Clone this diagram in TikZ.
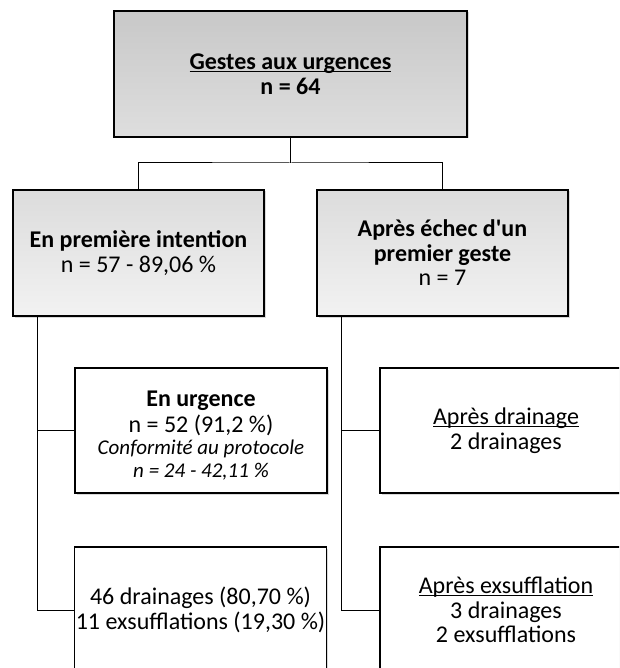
\documentclass[tikz,border=0pt]{standalone}
\usepackage{fontspec}
\setmainfont{Carlito}
\usetikzlibrary{positioning,shadows}
\definecolor{topA}{RGB}{200,200,200}
\definecolor{topB}{RGB}{222,222,222}
\definecolor{midA}{RGB}{220,220,220}
\definecolor{midB}{RGB}{242,242,242}
\newcommand{\ul}[1]{\setbox0\hbox{#1}\rlap{\rule[-2.6pt]{\wd0}{1.1pt}}\box0}
\newcommand{\itl}{\fontsize{21}{22}\selectfont\itshape}

\begin{document}
\begin{tikzpicture}[x=1pt,y=-1pt]
\tikzstyle{every node}+=[align=center,inner sep=0pt,font=\fontsize{24}{24.5}\selectfont]
\tikzstyle{box}=[draw=black,line width=1.2pt,fill=white,minimum width=252pt,minimum height=126pt,drop shadow={shadow xshift=1.5pt,shadow yshift=-1.5pt,opacity=0.3}]
\useasboundingbox (0,0) rectangle (619,668);
\clip (0,0) rectangle (619,668);
\node [box,minimum width=353pt,top color=topA,bottom color=topB] (gestes) at (290.5,74) {\bfseries\ul{Gestes aux urgences}\\ \bfseries n = 64};
\node [box,top color=midA,bottom color=midB,minimum width=251pt] (premiere) at (138.5,253) {\bfseries En première intention\\ n = 57 - 89,06 \%};
\node [box,top color=midA,bottom color=midB,minimum width=251pt] (echec) at (442.5,253) {\bfseries Après échec d\textquotesingle un\\ \bfseries premier geste\\ n = 7};
\node [box,minimum height=125pt] (urgence) at (201,430.5) {\rule{0pt}{26pt}\bfseries En urgence\\[1.5pt] n = 52 (91,2 \%)\\[-2.5pt] \itl Conformité au protocole\\[-1pt] \itl n = 24 - 42,11 \%};
\node [box,minimum height=125pt] (drainage) at (506,430.5) {\ul{Après drainage}\\ 2 drainages};
\node [box] (total) at (200.5,610) {46 drainages (80,70 \%)\\ 11 exsufflations (19,30 \%)};
\node [box] (exsuff) at (506,610) {\ul{Après exsufflation}\\ 3 drainages\\ 2 exsufflations};
\coordinate (split) at (290.5,163);
\draw [line width=1pt] (gestes) -- (split);
\draw [line width=1pt] (premiere.north) |- (split) -| (echec.north);
\draw [line width=1pt] ([xshift=25pt]premiere.south west) coordinate (lv) |- (total.west);
\draw [line width=1pt] (urgence.west -| lv) -- (urgence.west);
\draw [line width=1pt] ([xshift=25pt]echec.south west) coordinate (rv) |- (exsuff.west);
\draw [line width=1pt] (drainage.west -| rv) -- (drainage.west);
\end{tikzpicture}
\end{document}
